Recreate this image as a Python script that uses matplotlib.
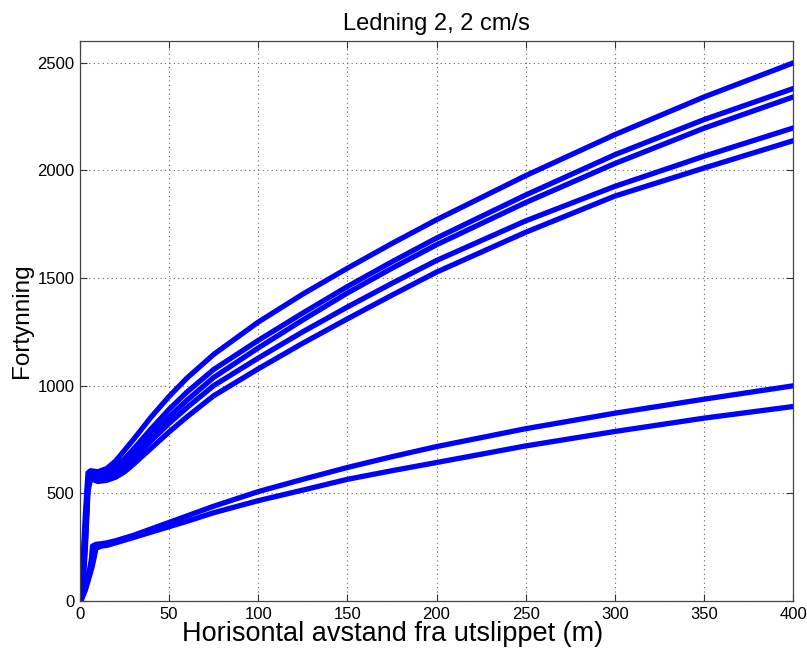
import matplotlib
matplotlib.use("Agg")
import matplotlib.pyplot as plt

plt.rcParams["font.family"] = ["Liberation Sans", "DejaVu Sans"]

# Fortynning langs ledning 2, fem tilfeller med hoy fortynning
x_upper = [0, 1.5, 3, 4.5, 6, 10, 15, 20, 25, 30, 40, 50, 60, 75, 100, 125, 150,
           175, 200, 250, 300, 350, 400]
upper_runs = [
    [0, 150, 400, 595, 605, 600, 615, 650, 700, 750, 855, 950, 1035, 1145, 1295,
     1425, 1545, 1660, 1770, 1975, 2165, 2340, 2498],
    [0, 110, 340, 570, 595, 590, 600, 625, 660, 705, 800, 890, 970, 1075, 1210,
     1337, 1460, 1575, 1685, 1885, 2072, 2235, 2379],
    [0, 90, 300, 550, 585, 575, 585, 610, 645, 685, 770, 855, 932, 1038, 1175,
     1305, 1430, 1545, 1654, 1850, 2031, 2195, 2340],
    [0, 70, 270, 530, 578, 565, 570, 595, 625, 660, 745, 825, 898, 1000, 1128,
     1250, 1365, 1475, 1581, 1765, 1925, 2065, 2196],
    [0, 50, 240, 510, 568, 555, 560, 575, 600, 635, 710, 785, 855, 953, 1078,
     1197, 1310, 1420, 1527, 1712, 1880, 2010, 2137],
]

# To tilfeller med lav fortynning
x_lower = [0.5, 3, 5.5, 6.5, 7, 9, 12, 15, 20, 30, 40, 50, 60, 75, 100, 125, 150,
           175, 200, 250, 300, 350, 400]
lower_runs = [
    [0, 70, 150, 200, 255, 263, 266, 270, 280, 305, 335, 365, 395, 440, 508, 565,
     620, 670, 717, 800, 872, 937, 999],
    [0, 50, 120, 150, 165, 245, 255, 258, 270, 295, 320, 345, 370, 410, 466, 515,
     565, 605, 643, 720, 787, 849, 903],
]

x_ticks = [0, 50, 100, 150, 200, 250, 300, 350, 400]
y_ticks = [0, 500, 1000, 1500, 2000, 2500]

fig = plt.figure(figsize=(8.07, 6.52), dpi=100)
ax = fig.add_axes([0.0991, 0.0782, 0.8836, 0.8589])

for run in upper_runs:
    ax.plot(x_upper, run, color="#0000ff", linewidth=3.8, solid_joinstyle="round")
for run in lower_runs:
    ax.plot(x_lower, run, color="#0000ff", linewidth=3.8, solid_joinstyle="round")

ax.set_xlim(0, 400)
ax.set_ylim(0, 2600)
ax.set_xticks(x_ticks)
ax.set_yticks(y_ticks)
ax.tick_params(direction="in", top=True, right=True, length=5, width=0.8,
               labelsize=12, pad=4, colors="#333333", labelcolor="black")
ax.grid(True, linestyle=(0, (1, 3)), color="#666666", linewidth=0.8)
for spine in ax.spines.values():
    spine.set_color("#444444")
    spine.set_linewidth(0.9)

ax.set_title("Ledning 2, 2 cm/s", fontsize=17, pad=8)
ax.set_xlabel("Horisontal avstand fra utslippet (m)", fontsize=19.5)
ax.xaxis.set_label_coords(0.438, -0.036, transform=ax.transAxes)
ax.xaxis.label.set_va("top")
ax.set_ylabel("Fortynning", fontsize=17.5, labelpad=3)

fig.savefig("out.png", dpi=100)
